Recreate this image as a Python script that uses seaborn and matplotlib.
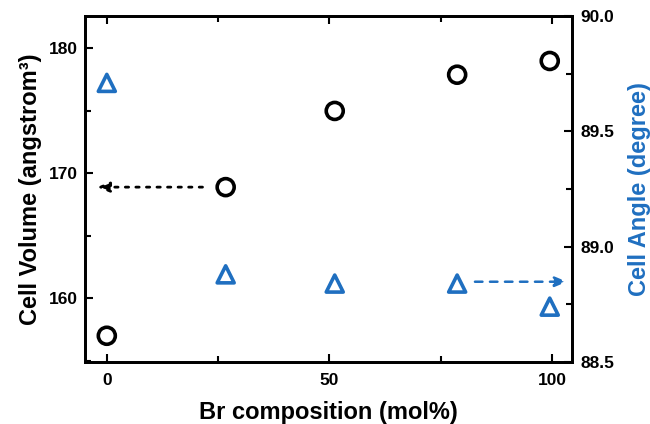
import matplotlib
matplotlib.use("Agg")
import matplotlib.pyplot as plt
from matplotlib.ticker import MultipleLocator
import seaborn as sns
import pandas as pd

# Data
br_composition = [0, 26.7, 51.2, 78.7, 99.5]
cell_volume = [157.0, 168.9, 175.0, 177.9, 179.0]
cell_angle = [89.71, 88.88, 88.84, 88.84, 88.74]

df = pd.DataFrame({"Br": br_composition, "Volume": cell_volume, "Angle": cell_angle})

sns.set_theme(style="ticks")
plt.rcParams["font.family"] = ["Liberation Sans", "DejaVu Sans"]
plt.rcParams["font.weight"] = "bold"
plt.rcParams["text.color"] = "black"
plt.rcParams["axes.labelcolor"] = "black"
plt.rcParams["xtick.color"] = "black"
plt.rcParams["ytick.color"] = "black"

BLUE = "#1f6fc0"

fig = plt.figure(figsize=(6.5, 4.24), dpi=100)
ax = fig.add_axes([85 / 650, 62 / 424, 487 / 650, 346 / 424])
ax2 = ax.twinx()

sns.scatterplot(data=df, x="Br", y="Volume", ax=ax, marker="o", s=150,
                facecolor="none", edgecolor="black", linewidth=2.6, legend=False,
                zorder=3)
sns.scatterplot(data=df, x="Br", y="Angle", ax=ax2, marker="^", s=150,
                facecolor="none", edgecolor=BLUE, linewidth=2.6, legend=False,
                zorder=3)

ax.set_xlim(-4.9, 104.5)
ax.set_ylim(154.9, 182.6)
ax2.set_ylim(88.5, 90.0)

ax.xaxis.set_major_locator(MultipleLocator(50))
ax.xaxis.set_minor_locator(MultipleLocator(25))
ax.yaxis.set_major_locator(MultipleLocator(10))
ax.yaxis.set_minor_locator(MultipleLocator(5))
ax2.yaxis.set_major_locator(MultipleLocator(0.5))
ax2.yaxis.set_minor_locator(MultipleLocator(0.25))
ax2.yaxis.set_major_formatter(matplotlib.ticker.FormatStrFormatter("%.1f"))

ax.tick_params(axis="x", which="both", direction="in", top=True, bottom=True,
               labelsize=12.5, pad=8, width=1.5, color="black", labelcolor="black")
ax.tick_params(axis="y", which="both", direction="in", left=True, right=False,
               labelsize=12.5, pad=5, width=1.5, color="black", labelcolor="black")
ax.tick_params(which="major", length=6)
ax.tick_params(which="minor", length=4)
ax2.tick_params(axis="y", which="both", direction="in", right=True,
                labelsize=12.5, pad=6, width=1.5, color="black", labelcolor="black")
ax2.tick_params(which="major", length=6)
ax2.tick_params(which="minor", length=4)

for a in (ax, ax2):
    for sp in a.spines.values():
        sp.set_linewidth(2.0)
        sp.set_color("black")
    for lbl in a.get_xticklabels() + a.get_yticklabels():
        lbl.set_fontweight("bold")

ax.set_xlabel("Br composition (mol%)", fontsize=17, fontweight="bold",
              labelpad=9, color="black")
ax.set_ylabel("Cell Volume (angstrom³)", fontsize=17, fontweight="bold",
              labelpad=5, color="black")
ax2.set_ylabel("Cell Angle (degree)", fontsize=17, fontweight="bold", color=BLUE,
               labelpad=10)

# Arrows indicating the axis for each series
ax.annotate("", xy=(-2.2, cell_volume[1]), xytext=(21.5, cell_volume[1]),
            arrowprops=dict(arrowstyle="-|>,head_length=0.6,head_width=0.25",
                            linestyle=(0, (1.2, 2.6)), color="black", lw=2.0,
                            shrinkA=0, shrinkB=0))
ax2.annotate("", xy=(103.4, 88.848), xytext=(82.7, 88.848),
             arrowprops=dict(arrowstyle="-|>,head_length=0.6,head_width=0.25",
                             linestyle=(0, (3, 3)), color=BLUE, lw=1.8,
                             shrinkA=0, shrinkB=0))

fig.savefig("out.png", dpi=100)
